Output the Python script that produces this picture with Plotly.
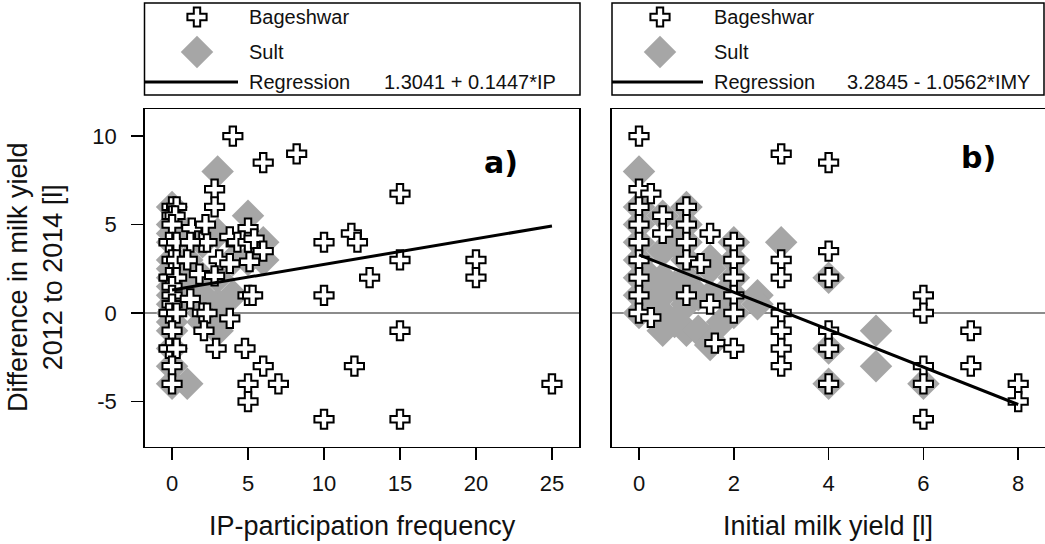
import plotly.graph_objects as go

W, H = 1045, 544
FONT = "Liberation Sans, Arial, sans-serif"

# ---------------- data: panel a (IP-participation frequency) ----------------
a_bag_x = [4, 6, 8.2, 2.8, 2.8,
           0, 0.3, 0, 0.2, 0, -0.2, 0.3, 0, 0.3, 0, -0.2, 0.3, 0, 0, 0, -0.2, 0.3, 0, 0, -0.2, 0.3, 0, 0,
           1.3, 2, 2.3, 1.2, 2.2, 3.8, 4.3, 5, 5, 5.4, 6, 1, 3.1, 5.1, 3.8,
           1.8, 2.8, 1.2, 5, 5.3, 2, 2.3, 3.8, 2.1, 2.9, 4.8, 6, 5, 7, 5,
           10, 10, 10, 11.8, 12.2, 13, 15, 15, 20, 20, 15, 12, 25, 15]
a_bag_y = [10, 8.5, 9, 7, 6,
           6, 6, 5.5, 5.5, 5, 4, 4, 3, 3, 2, 2, 2, 1.5, 1, 0.5, 0, 0, -1, -2, -2, -2, -3, -4,
           4.8, 4, 4, 4, 5, 4.3, 4, 4.8, 4, 4.2, 3.5, 3, 3, 2.9, 2.8,
           2.2, 2.1, 0.8, 1, 1, 0, 0, -0.3, -1, -2, -2, -3, -4, -4, -5,
           4, 1, -6, 4.5, 4, 2, 6.75, 3, 3, 2, -1, -3, -4, -6]
a_sult_x = [0, 0, 0, 0, 0, 0, 0, 0, 0, 0, 0, 0, 0, 0, 0, 0,
            1, 1, 1, 1, 1, 2, 2, 2, 2, 2, 3, 3, 3, 3, 3, 4, 4, 5, 5, 6, 6]
a_sult_y = [6, 5, 4, 3, 2, 1, 0, -1, -2, -3, -4, 4.5, 2.5, 1.5, 0.5, -0.5,
            -4, 3, 1, 2, 4.5, 2, 1, 0, -0.5, 4, 8, -1, 0.5, 2, 4.5, 1, 3, 5.5, 3, 4, 3]

# ---------------- data: panel b (initial milk yield) ----------------
b_bag_x = [0, 3, 4, 0, 0.25, 0, 0.5, 1, 1, 0, 0.5, 1.5, 2, 0, 1, 0, 1, 1.3, 2, 0, 2,
           3, 3, 0, 1, 1.5, 2, 2, 0, 0.25, 3, 3, 3, 3, 1.6, 2,
           4, 4, 4, 4, 4, 6, 6, 6, 6, 6, 7, 7, 8, 8]
b_bag_y = [10, 9, 8.5, 7, 6.75, 6, 5.5, 6, 5, 5, 4.5, 4.5, 4, 4, 4, 3, 3, 2.8, 3, 2, 2,
           3, 2, 1, 1, 0.5, 1, 0, 0, -0.25, 0, -1, -2, -3, -1.7, -2,
           3.5, 2, -1, -2, -4, 1, 0, -3, -4, -6, -1, -3, -4, -5]
b_sult_x = [0, 0, 0, 0, 0, 0, 0, 0,
            0.25, 0.25, 0.25,
            0.5, 0.5, 0.5, 0.5, 0.5, 0.5,
            0.75, 0.75, 0.75,
            1, 1, 1, 1, 1, 1, 1,
            1.25, 1.25,
            1.5, 1.5, 1.5, 1.5, 1.5,
            1.75, 1.75,
            2, 2, 2, 2, 2,
            2.5, 2.5,
            3, 4, 4, 4, 5, 5, 6]
b_sult_y = [8, 6, 5, 4, 3, 2, 1, 0,
            2, 1, 0.5,
            5.5, 3.5, 2, 1, 0, -1,
            4, 1.5, -0.5,
            6, 5, 4, 3, 2, 0.5, -1,
            1, -1,
            3, 2.5, 1, -1.5, -1.8,
            1, -0.5,
            4, 3, 2, 1, 0,
            1, 0.5,
            4, 2, -2, -4, -1, -3, -4]

# tick values and labels
a_xticks = [0, 5, 10, 15, 20, 25]
b_xticks = [0, 2, 4, 6, 8]
yticks = [-5, 0, 5, 10]
yticklabels = ["-5", "0", "5", "10"]

# regression coefficients (intercept, slope) and fitted x-extent
reg_a_coef = (1.3041, 0.1447)
reg_a_x = [0, 25]
reg_b_coef = (3.2845, -1.0562)
reg_b_x = [0, 8]
reg_a_label = "1.3041 + 0.1447*IP"
reg_b_label = "3.2845 - 1.0562*IMY"

reg_a_y = [reg_a_coef[0] + reg_a_coef[1] * v for v in reg_a_x]
reg_b_y = [reg_b_coef[0] + reg_b_coef[1] * v for v in reg_b_x]

# ---------------- style ----------------
GREY = "#a6a6a6"
cross = dict(symbol="cross", size=16, color="white", line=dict(color="black", width=2))
diamond = dict(symbol="diamond", size=25, color=GREY, line=dict(width=0))

fig = go.Figure()

def add_panel(xs, ys, xb, yb, rx, ry, xa, ya):
    fig.add_trace(go.Scatter(x=xs, y=ys, mode="markers", marker=diamond,
                             xaxis=xa, yaxis=ya, showlegend=False, hoverinfo="skip"))
    fig.add_trace(go.Scatter(x=xb, y=yb, mode="markers", marker=cross,
                             xaxis=xa, yaxis=ya, showlegend=False, hoverinfo="skip"))
    fig.add_trace(go.Scatter(x=rx, y=ry, mode="lines", line=dict(color="black", width=3),
                             xaxis=xa, yaxis=ya, showlegend=False, hoverinfo="skip"))

add_panel(a_sult_x, a_sult_y, a_bag_x, a_bag_y, reg_a_x, reg_a_y, "x", "y")
add_panel(b_sult_x, b_sult_y, b_bag_x, b_bag_y, reg_b_x, reg_b_y, "x2", "y2")

def px(v):
    return v / W

def py(v):
    return 1 - v / H

# legend symbols in an overlay pixel-space axis
for cx in (197, 660):
    fig.add_trace(go.Scatter(x=[cx], y=[17], mode="markers", marker=cross,
                             xaxis="x3", yaxis="y3", showlegend=False, hoverinfo="skip"))
    fig.add_trace(go.Scatter(x=[cx], y=[52], mode="markers", marker=diamond,
                             xaxis="x3", yaxis="y3", showlegend=False, hoverinfo="skip"))

tickfont = dict(family=FONT, size=22, color="#111")
axis_common = dict(showgrid=False, zeroline=False, showline=True, linecolor="black",
                   linewidth=1.5, ticks="outside", ticklen=12, tickwidth=1.5,
                   tickcolor="black", tickfont=tickfont)

fig.update_layout(
    width=W, height=H,
    margin=dict(l=0, r=0, t=0, b=0),
    paper_bgcolor="white", plot_bgcolor="rgba(0,0,0,0)",
    showlegend=False,
    xaxis=dict(domain=[px(144.7), px(579)], range=[-1.8, 26.78], anchor="y",
               tickvals=a_xticks, ticktext=[str(v) for v in a_xticks], mirror=True,
               ticklabelstandoff=4, **axis_common),
    yaxis=dict(domain=[py(446.7), py(109)], range=[-7.55, 11.53], anchor="x",
               tickvals=yticks, ticktext=yticklabels, mirror=True, ticklabelstandoff=10,
               **{k: v for k, v in axis_common.items() if k != "zeroline"},
               zeroline=True, zerolinecolor="#8c8c8c", zerolinewidth=1.5),
    xaxis2=dict(domain=[px(611.7), 1.0], range=[-0.576, 8.565], anchor="y2",
                tickvals=b_xticks, ticktext=[str(v) for v in b_xticks], mirror=True,
                ticklabelstandoff=4, **axis_common),
    yaxis2=dict(domain=[py(446.7), py(109)], range=[-7.55, 11.53], anchor="x2",
                showticklabels=False, ticks="", showgrid=False, showline=True,
                linecolor="black", linewidth=1.5, mirror=False,
                zeroline=True, zerolinecolor="#8c8c8c", zerolinewidth=1.5),
    xaxis3=dict(domain=[0, 1], range=[0, W], anchor="y3", visible=False, fixedrange=True),
    yaxis3=dict(domain=[0, 1], range=[H, 0], anchor="x3", visible=False, fixedrange=True),
)

shapes = []
for x0, x1 in ((144.5, 580), (612, 1044)):
    shapes.append(dict(type="rect", xref="x3", yref="y3", x0=x0, x1=x1, y0=3, y1=95,
                       line=dict(color="black", width=1.5), fillcolor="rgba(0,0,0,0)"))
shapes.append(dict(type="line", xref="x3", yref="y3", x0=145, x1=238, y0=82, y1=82,
                   line=dict(color="black", width=3)))
shapes.append(dict(type="line", xref="x3", yref="y3", x0=612, x1=703, y0=82, y1=82,
                   line=dict(color="black", width=3)))
fig.update_layout(shapes=shapes)

ann = []
lf = dict(family=FONT, size=20, color="#111")
for tx, eqx, eq in ((247, 382, reg_a_label), (712, 845, reg_b_label)):
    for lab, yy in (("Bageshwar", 17), ("Sult", 52), ("Regression", 82)):
        ann.append(dict(xref="x3", yref="y3", x=tx, y=yy, text=lab, showarrow=False,
                        xanchor="left", yanchor="middle", font=lf))
    ann.append(dict(xref="x3", yref="y3", x=eqx, y=82, text=eq, showarrow=False,
                    xanchor="left", yanchor="middle", font=lf))

pl = dict(family="DejaVu Sans, sans-serif", size=30, color="black")
ann.append(dict(xref="x3", yref="y3", x=501, y=162, text="<b>a)</b>", showarrow=False,
                xanchor="center", yanchor="middle", font=pl))
ann.append(dict(xref="x3", yref="y3", x=978, y=157, text="<b>b)</b>", showarrow=False,
                xanchor="center", yanchor="middle", font=pl))

tf = dict(family=FONT, size=27, color="#111")
ann.append(dict(xref="x3", yref="y3", x=362, y=526, text="IP-participation frequency",
                showarrow=False, xanchor="center", yanchor="middle", font=tf))
ann.append(dict(xref="x3", yref="y3", x=828, y=526, text="Initial milk yield [l]",
                showarrow=False, xanchor="center", yanchor="middle", font=tf))
ann.append(dict(xref="x3", yref="y3", x=35, y=277,
                text="Difference in milk yield<br>2012 to 2014 [l]", textangle=-90,
                showarrow=False, xanchor="center", yanchor="middle", font=tf))
fig.update_layout(annotations=ann)

fig.write_html(
    "out.html",
    config={"displayModeBar": False, "staticPlot": True},
    post_script="document.body.style.margin='0';document.body.style.overflow='hidden';",
)
